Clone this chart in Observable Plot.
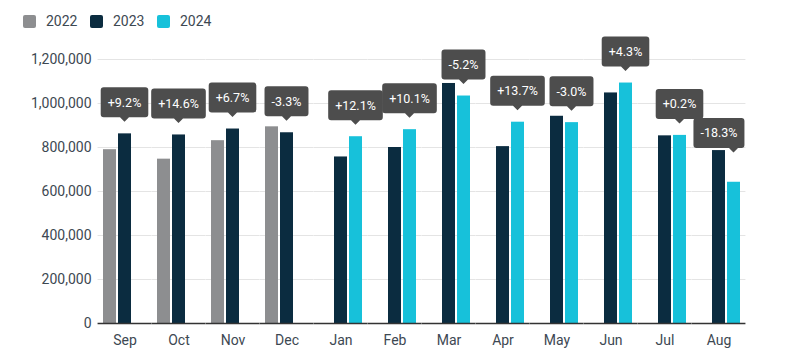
<!DOCTYPE html>
<html>
<head>
<meta charset="utf-8">
<script src="https://cdn.jsdelivr.net/npm/d3@7"></script>
<script src="https://cdn.jsdelivr.net/npm/@observablehq/plot@0.6"></script>
<style>
  html, body { margin: 0; padding: 0; background: #fff; }
  #legend { height: 40px; display: flex; align-items: center; padding-left: 23px; box-sizing: border-box;
            font-family: Roboto, sans-serif; font-size: 14px; color: #3d4852; padding-top: 2px; }
  .item { display: flex; align-items: center; margin-right: 12.5px; }
  .sw { width: 13px; height: 13px; border-radius: 2px; margin-right: 10px; }
</style>
</head>
<body>
<div id="legend"></div>
<div id="chart"></div>
<script>
const months = ["Sep","Oct","Nov","Dec","Jan","Feb","Mar","Apr","May","Jun","Jul","Aug"];
const years = ["2022","2023","2024"];
const values2022 = [790000, 747000, 831000, 894000, null, null, null, null, null, null, null, null];
const values2023 = [862000, 857000, 884000, 867000, 757000, 800000, 1091000, 804000, 942000, 1048000, 853000, 786000];
const values2024 = [null, null, null, null, 849000, 881000, 1034000, 915000, 913000, 1093000, 855000, 642000];
const changeLabels = ["+9.2%","+14.6%","+6.7%","-3.3%","+12.1%","+10.1%","-5.2%","+13.7%","-3.0%","+4.3%","+0.2%","-18.3%"];
const yTicks = [0, 200000, 400000, 600000, 800000, 1000000, 1200000];
const colors = ["#8d8e90", "#0b2c40", "#17c1da"];

// Build tables
const bars = [];
months.forEach((m, i) => {
  const vals = [values2022[i], values2023[i], values2024[i]];
  vals.forEach((v, j) => { if (v != null) bars.push({month: m, year: years[j], value: v}); });
});
const labels = months.map((m, i) => {
  const has24 = values2024[i] != null;
  return {
    month: m,
    year: has24 ? "2024" : "2023",
    value: has24 ? values2024[i] : values2023[i],
    earlierYear: has24 ? "2023" : "2022",
    earlier: has24 ? values2023[i] : values2022[i],
    text: changeLabels[i]
  };
});

// Legend
const legend = document.getElementById("legend");
years.forEach((y, j) => {
  const it = document.createElement("div"); it.className = "item";
  const sw = document.createElement("div"); sw.className = "sw"; sw.style.background = colors[j];
  const tx = document.createElement("span"); tx.textContent = y;
  it.appendChild(sw); it.appendChild(tx); legend.appendChild(it);
});

const LABEL_FONT = "12.5px Roboto";
const mctx = document.createElement("canvas").getContext("2d");
mctx.font = LABEL_FONT;

const FX_INNER = 0.16, FX_OUTER = 0.08;
const gap = 54.17 * FX_OUTER + 0.1; // half of the gap between month groups

function labelRender(index, scales, values, dimensions) {
  const ns = "http://www.w3.org/2000/svg";
  const g = document.createElementNS(ns, "g");
  const sx = scales.x;
  const bw = typeof sx.bandwidth === "function" ? sx.bandwidth() : (sx.bandwidth || 0);
  const facetWidth = sx(years[years.length - 1]) + bw;
  for (const i of index) {
    const d = labels[i];
    const cx = values.x[i] + bw / 2;
    const yLater = values.y[i];
    const tw = mctx.measureText(d.text).width;
    const w = tw + 14;
    let bx = cx;
    // keep the last box inside the plot frame
    if (d.month === months[months.length - 1]) {
      const limit = facetWidth + gap;
      if (bx + w / 2 > limit) bx = limit - w / 2;
    }
    let bottom = yLater - 16;
    if (d.earlier != null) {
      const ex = sx(d.earlierYear);
      const ey = scales.y(d.earlier);
      if (bx - w / 2 < ex + bw && bx + w / 2 > ex) bottom = Math.min(bottom, ey - 2);
    }
    const top = bottom - 30, r = 3;
    const L = bx - w / 2, R = bx + w / 2;
    const p = `M${L + r},${top}H${R - r}Q${R},${top} ${R},${top + r}V${bottom - r}Q${R},${bottom} ${R - r},${bottom}` +
      `H${cx + 4.5}L${cx},${bottom + 4.5}L${cx - 4.5},${bottom}H${L + r}Q${L},${bottom} ${L},${bottom - r}V${top + r}Q${L},${top} ${L + r},${top}Z`;
    const path = document.createElementNS(ns, "path");
    path.setAttribute("d", p);
    path.setAttribute("fill", "#4d4d4d");
    g.appendChild(path);
    const t = document.createElementNS(ns, "text");
    t.setAttribute("x", bx);
    t.setAttribute("y", top + 15);
    t.setAttribute("dy", "0.35em");
    t.setAttribute("text-anchor", "middle");
    t.setAttribute("fill", "#ffffff");
    t.setAttribute("font-family", "Roboto");
    t.setAttribute("font-size", "12.5px");
    t.textContent = d.text;
    g.appendChild(t);
  }
  return g;
}

const chart = Plot.plot({
  width: 785,
  height: 318,
  marginLeft: 97,
  marginRight: 38,
  marginTop: 19,
  marginBottom: 35,
  style: {fontFamily: "Roboto, sans-serif", fontSize: "14px", color: "#3d4852", background: "#fff", overflow: "visible"},
  fx: {domain: months, paddingInner: FX_INNER, paddingOuter: FX_OUTER, label: null, axis: "bottom", tickSize: 0, tickPadding: 12},
  x: {domain: years, paddingInner: 0.11, paddingOuter: 0, axis: null},
  y: {domain: [0, 1200000], label: null, axis: null},
  color: {domain: years, range: colors},
  marks: [
    Plot.ruleY(yTicks.slice(1), {stroke: "#e4e4e4", strokeWidth: 1, insetLeft: -gap, insetRight: -gap}),
    Plot.axisY(yTicks, {tickSize: 0, tickPadding: 11, tickFormat: d3.format(","), label: null, fontSize: 14}),
    Plot.barY(bars, {fx: "month", x: "year", y: "value", fill: "year"}),
    Plot.ruleY([0], {stroke: "#333", strokeWidth: 1.4, insetLeft: -gap, insetRight: -gap}),
    Plot.text(labels, {fx: "month", x: "year", y: "value", text: "text", render: labelRender})
  ]
});
document.getElementById("chart").appendChild(chart);
</script>
</body>
</html>
